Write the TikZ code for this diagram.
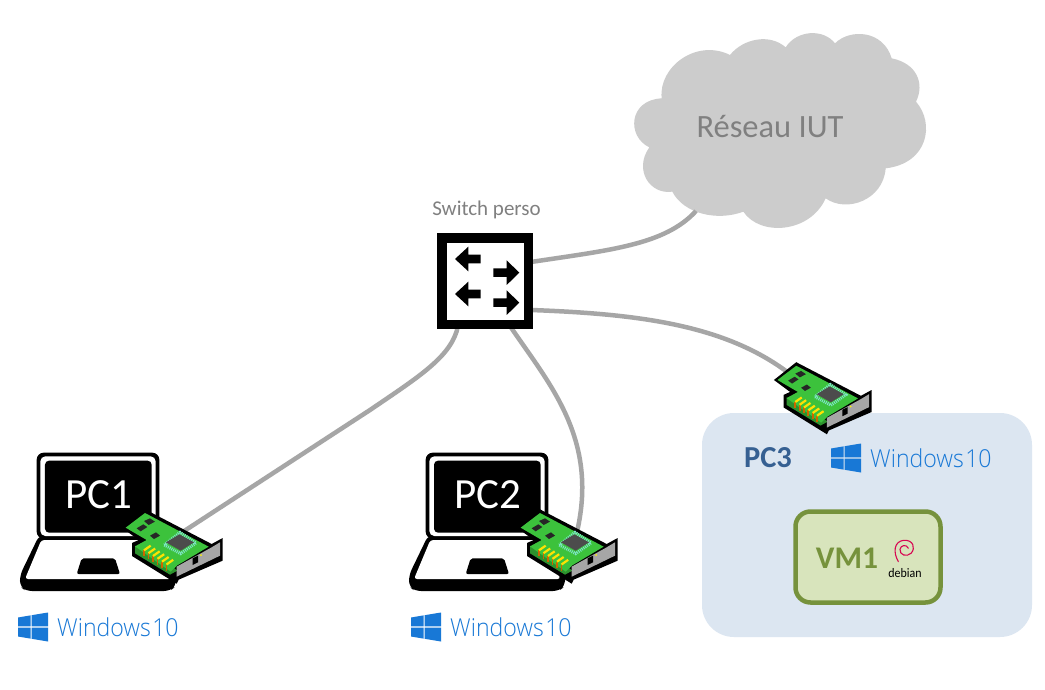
\documentclass[tikz,border=0pt]{standalone}
\usepackage{fontspec}
\setmainfont{Carlito}
\newfontfamily\winfont{Open Sans Light}
\definecolor{cable}{HTML}{A6A6A6}
\definecolor{cloudgray}{HTML}{CCCCCC}
\definecolor{pcblue}{HTML}{DCE6F1}
\definecolor{pcdark}{HTML}{366092}
\definecolor{vmfill}{HTML}{D8E4BC}
\definecolor{vmline}{HTML}{76923C}
\definecolor{winblue}{HTML}{1878D6}
\definecolor{board}{HTML}{3CC23C}
\definecolor{deb}{HTML}{D70751}
\definecolor{chipleg}{HTML}{7FE3C8}
\tikzset{
  cablestyle/.style={draw=cable,line width=4.5pt},
  sizedtext/.style={inner sep=0pt,font=\fontsize{#1}{#1}\selectfont},
  nic/.pic={
    \begin{scope}[scale=1/3]
      \fill[black] (6,68)--(75,13)--(275,117)--(308,99)--(308,167)--(176,224)--(170,236)--(36,153)--(36,114)--(56,105)--cycle;
      \fill[board!75!black] (45,122)--(45,145)--(150,209)--(172,197)--(150,180)--cycle;
      \fill[board] (17,68)--(75,24)--(266,125)--(172,181)--(152,200)--(45,124)--(80,105)--cycle;
      \fill[black!85] (50,70)--(70,58)--(82,66)--(62,79)--cycle;
      \fill[black!85] (72,48)--(90,40)--(105,50)--(86,60)--cycle;
      \fill[black!85] (90,92)--(108,82)--(120,92)--(102,102)--cycle;
      \draw[chipleg,line width=3pt,dash pattern=on 1pt off 1pt] (133,120)--(182,146)--(228,114)--(180,82)--cycle;
      \fill[black!70] (138,112)--(178,88)--(222,112)--(182,137)--cycle;
      \foreach \i in {0,...,5}{
        \draw[orange!80!black,line width=1.8pt] ({72+\i*13.5},{136+\i*8.5})--({72+\i*13.5},{154+\i*8.5});
        \draw[yellow!85!orange,line width=2.2pt] ({92+\i*13.5},{122+\i*8.5})--({72+\i*13.5},{136+\i*8.5});
      }
      \fill[cable] (170,185)--(170,215)--(300,152)--(300,112)--(275,127)--cycle;
      \fill[black] (218,160)--(234,152)--(234,172)--(218,180)--cycle;
      \fill[yellow] (243,150) circle (3);
    \end{scope}
  },
  laptop/.pic={
    \begin{scope}[scale=1/3]
      \fill[black,rounded corners=6pt] (118,285)--(60,405)--(60,440)--(78,453)--(510,453)--(528,438)--(528,405)--(470,285)--cycle;
      \fill[white,rounded corners=3pt] (124,300)--(75,417)--(515,417)--(462,300)--cycle;
      \fill[black,rounded corners=2pt] (245,355)--(345,355)--(360,402)--(230,402)--cycle;
      \fill[black,rounded corners=7pt] (110,38) rectangle (478,296);
      \fill[white,rounded corners=5pt] (121,49) rectangle (467,288);
      \fill[black,rounded corners=4pt] (135,62) rectangle (455,278);
    \end{scope}
  },
  winlogo/.pic={
    \fill[winblue] (0,-9.5)--(12.5,-11.6)--(12.5,-0.6)--(0,-0.6)--cycle;
    \fill[winblue] (13.6,-11.8)--(30,-14.5)--(30,-0.6)--(13.6,-0.6)--cycle;
    \fill[winblue] (0,9.5)--(12.5,11.6)--(12.5,0.6)--(0,0.6)--cycle;
    \fill[winblue] (13.6,11.8)--(30,14.5)--(30,0.6)--(13.6,0.6)--cycle;
  },
  wintext/.style={anchor=west,inner sep=0pt,text=winblue,font=\winfont\fontsize{24.7}{24.7}\selectfont},
}
\newcommand{\wintxt}{\scalebox{0.935}[1]{Windows\hspace{1.5pt}10}}
\begin{document}
\begin{tikzpicture}[x=1pt,y=-1pt]
\useasboundingbox (0,0) rectangle (1045,690);
\fill[white] (0,0) rectangle (1045,690);

% PC3 box
\node[draw=none,fill=pcblue,rounded corners=32pt,minimum width=330pt,minimum height=224pt,inner sep=0pt] (pcthree) at (867,525) {};

% cloud
\begin{scope}[shift={(620,10)},scale=1/3]
\fill[cloudgray] (125,265) .. controls (115,170) and (230,85) .. (330,135)
 .. controls (370,85) and (450,70) .. (497,112)
 .. controls (530,60) and (610,55) .. (645,100)
 .. controls (690,55) and (790,60) .. (815,145)
 .. controls (890,160) and (915,220) .. (888,275)
 .. controls (945,340) and (925,460) .. (797,475)
 .. controls (790,570) and (680,610) .. (617,565)
 .. controls (570,670) and (420,680) .. (370,605)
 .. controls (290,635) and (190,610) .. (157,545)
 .. controls (90,555) and (40,480) .. (88,412)
 .. controls (20,380) and (25,270) .. (125,265) -- cycle;
\end{scope}
\node[sizedtext=32.5,text=black!50] (cloudlabel) at (770,127) {Réseau IUT};

% connector ends
\coordinate (cloudport) at (696,211);
\coordinate (swa) at (531,262);
\coordinate (swb) at (531,310);
\coordinate (swc) at (458,326);
\coordinate (swd) at (510,326);
\coordinate (nicaport) at (175,537);
\coordinate (nicbport) at (576,536);
\coordinate (niccport) at (795,378);

% connectors
\draw[cablestyle] (swa) .. controls (610,250) and (665,245) .. (cloudport);
\draw[cablestyle] (swb) .. controls (640,314) and (730,325) .. (niccport);
\draw[cablestyle] (swc) .. controls (452,356) and (420,376) .. (370,410) -- (nicaport);
\draw[cablestyle] (swd) .. controls (550,385) and (600,440) .. (nicbport);

% switch
\node[draw=black,fill=white,line width=9.5pt,minimum size=86.5pt,inner sep=0pt] (switch) at (485,281) {};
\begin{scope}[shift={(420,190)},scale=1/3]
\foreach \yy in {207,312}{
  \fill[black] (105,\yy)--(145,\yy-37)--(145,\yy-13)--(182,\yy-13)--(182,\yy+13)--(145,\yy+13)--(145,\yy+37)--cycle;
}
\foreach \yy in {248,338}{
  \fill[black] (298,\yy)--(260,\yy-37)--(260,\yy-13)--(220,\yy-13)--(220,\yy+13)--(260,\yy+13)--(260,\yy+37)--cycle;
}
\end{scope}
\node[sizedtext=21,text=black!50] (switchlabel) at (486.5,210) {Switch perso};

% laptops
\pic at (0,440) {laptop};
\pic at (389,440) {laptop};
\node[sizedtext=43,text=white] (pcone) at (98.5,495) {PC1};
\node[sizedtext=43,text=white] (pctwo) at (487.5,495) {PC2};

% NICs
\pic at (120,505) {nic};
\pic at (515,505) {nic};
\pic[scale=0.97] at (772,358) {nic};

% Windows
\pic at (18,627) {winlogo};
\node[wintext] (wina) at (57,627) {\wintxt};
\pic at (411,627) {winlogo};
\node[wintext] (winb) at (450,627) {\wintxt};
\pic at (831,458) {winlogo};
\node[wintext] (winc) at (870,458) {\wintxt};

\node[sizedtext=30,text=pcdark,font=\bfseries\fontsize{30.5}{30.5}\selectfont] (pcthreelabel) at (768,458) {PC3};

% VM
\node[draw=vmline,fill=vmfill,line width=4.5pt,rounded corners=15pt,minimum width=145pt,minimum height=91pt,inner sep=0pt] (vm) at (868,557) {};
\node[sizedtext=31,text=vmline,font=\bfseries\fontsize{31.5}{31.5}\selectfont] (vmlabel) at (847,558) {VM1};

% debian swirl
\begin{scope}[shift={(700,350)},scale=1/3]
\draw[deb,line width=1.1pt,line cap=round] (595,635) .. controls (578,605) and (583,575) .. (610,571)
 .. controls (640,568) and (648,595) .. (633,610)
 .. controls (620,622) and (598,615) .. (600,598)
 .. controls (602,585) and (620,582) .. (625,595);
\end{scope}
\node[sizedtext=13,text=black] (debianlabel) at (905,573) {\scalebox{0.92}[1]{debian}};
\end{tikzpicture}
\end{document}
